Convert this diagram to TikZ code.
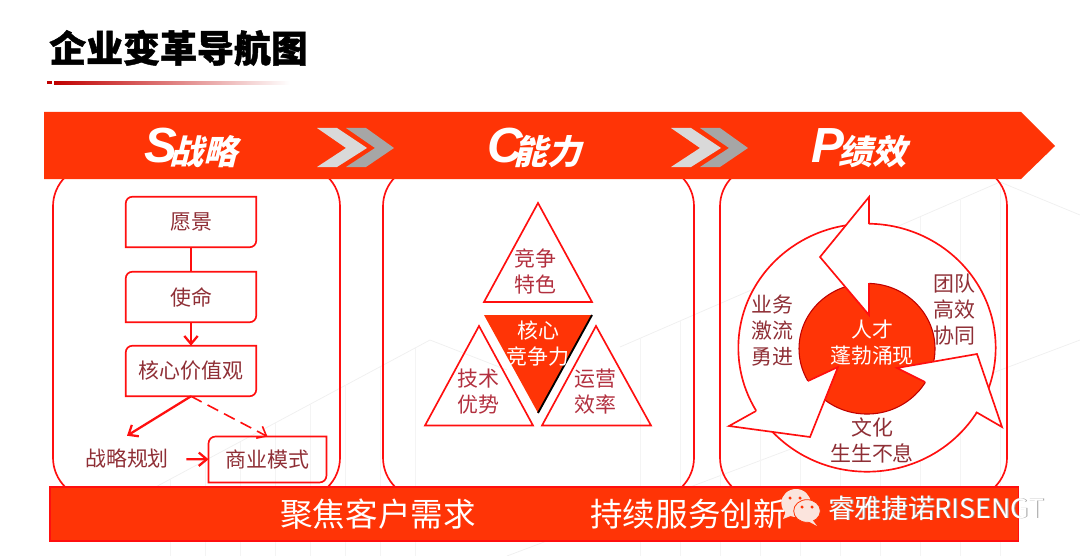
\documentclass[tikz,border=0pt]{standalone}
\usepackage{fontspec}
\setmainfont{Noto Sans CJK SC}
\newfontfamily\headcjk{Noto Sans CJK SC}[FakeSlant=0.25]
\newfontfamily\titlecjk{Noto Sans CJK SC}[BoldFeatures={FakeBold=1.2}]
\newfontfamily\headlatin{Liberation Sans}
\usetikzlibrary{arrows.meta}
\definecolor{bannerred}{HTML}{FF3406}
\definecolor{linered}{HTML}{FF0F0F}
\definecolor{titlered}{HTML}{C00000}
\definecolor{textbrown}{HTML}{8F2F36}
\definecolor{textrose}{HTML}{B2303F}
\definecolor{bubblepink}{HTML}{FBE4DD}
\tikzset{
    cardline/.style={line width=1.25pt, linered, rounded corners=31pt},
    boxlabel/.style={textbrown, font=\fontsize{15.7}{19.5}\selectfont, align=center, inner sep=0pt},
    rosylabel/.style={textrose, font=\fontsize{15.7}{19.5}\selectfont, align=center, inner sep=0pt},
    whitelabel/.style={white, font=\fontsize{15.7}{19.5}\selectfont, align=center, inner sep=0pt},
    stepbox/.style={boxlabel, minimum width=97.5pt, minimum height=37.5pt},
    flowline/.style={line width=1.7pt, linered},
    flowarrow/.style={flowline, -{Straight Barb[length=6pt, width=10pt]}},
    triline/.style={line width=1.25pt, linered, line join=miter},
    ringline/.style={line width=1.25pt, linered, fill=white},
    headlabel/.style={white, inner sep=0pt, anchor=base west},
    barlabel/.style={white, font=\fontsize{24.4}{28}\selectfont, inner sep=0pt}
}
\newcommand{\headtext}[3]{{\headlatin\bfseries\itshape\fontsize{37}{40}\selectfont #1}{\kern#3\headcjk\bfseries\fontsize{25.5}{30}\selectfont\raisebox{-1.5pt}{#2}}}
\newcommand{\stepoutline}[1]{\draw[line width=1.25pt, linered]
    (#1.north) -- (#1.north east) [rounded corners=5pt] -- (#1.south east) [sharp corners] -- (#1.south west)
    [rounded corners=5pt] -- (#1.north west) [sharp corners] -- (#1.north);}
\begin{document}
\begin{tikzpicture}[x=0.75pt, y=-0.75pt]
    \useasboundingbox (0,0) rectangle (1080,556);
    % 背景楼宇线条
    \draw[gray!12, line width=0.6pt] (150,490) -- (430,340) -- (507,370);
    \draw[gray!12, line width=0.6pt] (620,347) -- (1000,182) -- (1080,215);
    \draw[gray!12, line width=0.6pt] (507,556) -- (1080,340);
    \foreach \xb [evaluate=\xb as \yb using 340+(430-\xb)*0.536] in {170,205,240,275,310,345,380,415} {
        \draw[gray!9, line width=0.6pt] (\xb,\yb) -- (\xb,556);
    }
    \foreach \xb [evaluate=\xb as \yb using 347-(\xb-620)*0.434] in {640,680,720,760,800,840,880,920,960,1000} {
        \draw[gray!9, line width=0.6pt] (\xb,\yb) -- (\xb,556);
    }
    % 标题
    \node[anchor=west, inner sep=0pt, font=\titlecjk\fontsize{27.7}{32}\selectfont\bfseries] (title) at (49,48) {企业变革导航图};
    \fill[titlered] (47,81.5) rectangle (52,84.5);
    \fill[left color=titlered, right color=white] (54,82) rectangle (290,84.5);
    % 三个圆角框
    \draw[cardline] (53,165) rectangle (340,499);
    \draw[cardline] (383,165) rectangle (694,499);
    \draw[cardline] (720,165) rectangle (1007,499);
    % 顶部横幅
    \fill[bannerred] (44,112) -- (1021,112) -- (1055,146) -- (1021,179) -- (44,179) -- cycle;
    \foreach \dx in {0,354} {
        \fill[gray!70] (346+\dx,128) -- (366+\dx,128) -- (394+\dx,148) -- (366+\dx,167) -- (346+\dx,167) -- (375+\dx,148) -- cycle;
        \fill[gray!30] (317+\dx,128) -- (337+\dx,128) -- (367+\dx,148) -- (337+\dx,167) -- (317+\dx,167) -- (346+\dx,148) -- cycle;
    }
    \node[headlabel] (headS) at (144,162) {\headtext{S}{战略}{-5.5pt}};
    \node[headlabel] (headC) at (487,162) {\headtext{C}{能力}{-7pt}};
    \node[headlabel] (headP) at (811,162) {\headtext{P}{绩效}{-4pt}};
    % 战略框
    \node[stepbox] (vision) at (191,222) {愿景};
    \node[stepbox] (mission) at (191,297) {使命};
    \node[stepbox] (values) at (191,371) {核心价值观};
    \node[boxlabel, minimum width=88.5pt, minimum height=34.5pt] (planning) at (127,459) {战略规划};
    \node[boxlabel, minimum width=88pt, minimum height=34pt] (model) at (267.5,459.5) {商业模式};
    \stepoutline{vision}
    \stepoutline{mission}
    \stepoutline{values}
    \stepoutline{model}
    \draw[flowline] (vision) -- (mission);
    \draw[flowarrow] (mission) -- (values);
    \draw[flowarrow] (values.south) -- (planning.north);
    \draw[line width=1.2pt, linered, dash pattern=on 9pt off 5pt, -{Straight Barb[length=6pt, width=10pt]}] (values.south) -- (model.north);
    \draw[flowarrow] (planning) -- (model);
    % 能力三角形
    \draw[triline] (538,203) -- (592,302) -- (484,302) -- cycle;
    \draw[triline] (479,326) -- (533,425.5) -- (425,425.5) -- cycle;
    \draw[triline] (596,326) -- (651,425.5) -- (542,425.5) -- cycle;
    \fill[bannerred] (484,315) -- (592,315) -- (538,413) -- cycle;
    \draw[line width=1.4pt, black] (592,315) -- (538,413);
    \node[rosylabel] (feature) at (535,271) {竞争\\特色};
    \node[whitelabel] (core) at (538,344) {核心\\竞争力};
    \node[rosylabel] (tech) at (478,392) {技术\\优势};
    \node[rosylabel] (operate) at (595,392) {运营\\效率};
    % 绩效循环
    \draw[ringline] (867,347.7) ellipse [x radius=96.5pt, y radius=93pt];
    \draw[line width=0.8pt, titlered, fill=bannerred] (867,348.7) ellipse [x radius=51pt, y radius=49pt];
    \path[fill=white] (869,224) -- (869,197) -- (820,257) -- (869,315) -- (869,283) -- cycle;
    \draw[triline] (869,224) -- (869,197) -- (820,257) -- (869,315) -- (869,283);
    \path[fill=white] (976,412) -- (1002,427) -- (977,354) -- (897,368) -- (925,382) -- cycle;
    \draw[triline] (976,412) -- (1002,427) -- (977,354) -- (897,368) -- (925,382);
    \path[fill=white] (756,411) -- (729,426) -- (810,437) -- (838,367) -- (808,381) -- cycle;
    \draw[triline] (756,411) -- (729,426) -- (810,437) -- (838,367) -- (808,381);
    \node[boxlabel] (team) at (954,310) {团队\\高效\\协同};
    \node[boxlabel] (business) at (772,331) {业务\\激流\\勇进};
    \node[whitelabel] (talent) at (872,343) {人才\\蓬勃涌现};
    \node[boxlabel] (culture) at (872,440) {文化\\生生不息};
    % 底部横条
    \draw[line width=1pt, linered, fill=bannerred] (50,487) rectangle (1018.5,541);
    \node[barlabel] (focus) at (378,514) {聚焦客户需求};
    \node[barlabel] (service) at (688,514) {持续服务创新};
    % 水印
    \fill[bubblepink] (796,503) ellipse [x radius=11pt, y radius=10.5pt];
    \fill[bubblepink] (786,511) -- (783,519) -- (793,515) -- cycle;
    \draw[bannerred, line width=0.6pt, fill=bubblepink] (807,511) ellipse [x radius=10pt, y radius=8.5pt];
    \fill[bubblepink] (811,518) -- (817,526) -- (804,519) -- cycle;
    \foreach \ex/\ey in {790/498, 800/498, 802/507, 812/507} {
        \fill[bannerred] (\ex,\ey) circle (1.3pt);
    }
    \node[gray!75, font=\fontsize{20}{24}\selectfont, inner sep=0pt, anchor=west] (markshadow) at (828.8,508.8) {睿雅捷诺RISENGT};
    \node[white, font=\fontsize{20}{24}\selectfont, inner sep=0pt, anchor=west] (mark) at (828,508) {睿雅捷诺RISENGT};
\end{tikzpicture}
\end{document}
